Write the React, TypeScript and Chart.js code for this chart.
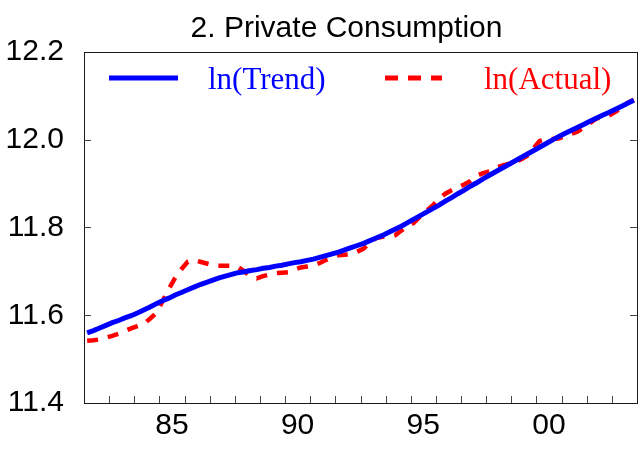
import { useEffect, useRef } from 'react';
import { Chart, registerables } from 'chart.js';

Chart.register(...registerables);

const TITLE = '2. Private Consumption';
const years = [1982, 1983, 1984, 1985, 1986, 1987, 1988, 1989, 1990, 1991, 1992, 1993, 1994, 1995, 1996, 1997, 1998, 1999, 2000, 2001, 2002, 2003];
const quarterNames = ['Q1', 'Q2', 'Q3', 'Q4'];
const periods = years.flatMap((y) => quarterNames.map((q) => `${y}${q}`));

const trendValues = [
  11.560, 11.565, 11.571, 11.577,
  11.583, 11.588, 11.594, 11.599,
  11.605, 11.612, 11.619, 11.626,
  11.633, 11.639, 11.646, 11.652,
  11.658, 11.664, 11.670, 11.675,
  11.680, 11.685, 11.689, 11.693,
  11.697, 11.699, 11.702, 11.704,
  11.707, 11.709, 11.712, 11.714,
  11.717, 11.720, 11.722, 11.725,
  11.728, 11.732, 11.736, 11.740,
  11.744, 11.749, 11.754, 11.759,
  11.764, 11.770, 11.776, 11.782,
  11.789, 11.796, 11.803, 11.811,
  11.819, 11.827, 11.835, 11.843,
  11.851, 11.860, 11.868, 11.877,
  11.885, 11.894, 11.902, 11.911,
  11.919, 11.927, 11.935, 11.943,
  11.951, 11.959, 11.967, 11.975,
  11.983, 11.991, 11.999, 12.007,
  12.014, 12.021, 12.028, 12.035,
  12.042, 12.049, 12.056, 12.062,
  12.069, 12.076, 12.083, 12.090,
];

const actualValues = [
  11.542, 11.543, 11.545, 11.549,
  11.553, 11.558, 11.564, 11.570,
  11.575, 11.580, 11.592, 11.605,
  11.632, 11.660, 11.685, 11.705,
  11.722, 11.726, 11.722, 11.718,
  11.714, 11.713, 11.713, 11.713,
  11.710, 11.700, 11.688, 11.684,
  11.689, 11.693, 11.696, 11.697,
  11.698, 11.704, 11.709, 11.711,
  11.713, 11.719, 11.726, 11.732,
  11.737, 11.738, 11.739, 11.745,
  11.752, 11.766, 11.776, 11.779,
  11.779, 11.782, 11.793, 11.803,
  11.811, 11.825, 11.838, 11.850,
  11.866, 11.877, 11.885, 11.892,
  11.898, 11.906, 11.918, 11.924,
  11.928, 11.936, 11.941, 11.945,
  11.948, 11.955, 11.963, 11.980,
  11.997, 12.001, 12.002, 12.003,
  12.008, 12.013, 12.018, 12.028,
  12.038, 12.048, 12.052, 12.055,
  12.063, 12.072, 12.084, 12.091,
];

const yTicks = [11.4, 11.6, 11.8, 12.0, 12.2];
const xLabelYears = [1985, 1990, 1995, 2000];
const seriesLabels = ['ln(Trend)', 'ln(Actual)'];
const seriesColors = ['#0000ff', '#ff0000'];

const SANS = '"Liberation Sans", Arial, sans-serif';

const periodToX = (p: string) => {
  const y = parseInt(p.slice(0, 4), 10);
  const q = parseInt(p.slice(5), 10);
  return y + (q - 0.5) / 4;
};

const toPoints = (vals: number[]) => periods.map((p, i) => ({ x: periodToX(p), y: vals[i] }));

const titlePlugin = {
  id: 'figureTitle',
  afterDraw(chart: any) {
    const { ctx, chartArea } = chart;
    ctx.save();
    ctx.font = `30px ${SANS}`;
    ctx.fillStyle = '#000';
    ctx.textAlign = 'center';
    ctx.textBaseline = 'alphabetic';
    ctx.fillText(TITLE, (chartArea.left + chartArea.right) / 2 - 14, chartArea.top - 15);
    ctx.restore();
  },
};

const framePlugin = {
  id: 'frameTicks',
  afterDatasetsDraw(chart: any) {
    const { ctx, chartArea } = chart;
    const { left, right, top, bottom } = chartArea;
    const xs = chart.scales.x;
    const ys = chart.scales.y;
    ctx.save();
    ctx.strokeStyle = '#1a1a1a';
    ctx.lineWidth = 1;
    ctx.strokeRect(Math.round(left) + 0.5, Math.round(top) + 0.5, Math.round(right - left), Math.round(bottom - top));
    ctx.strokeStyle = '#444';
    ctx.beginPath();
    for (let yr = years[0] + 1; yr <= years[years.length - 1]; yr++) {
      const px = Math.round(xs.getPixelForValue(yr)) + 0.5;
      ctx.moveTo(px, bottom);
      ctx.lineTo(px, bottom - 7);
    }
    for (const v of yTicks.slice(1, -1)) {
      const py = Math.round(ys.getPixelForValue(v)) + 0.5;
      ctx.moveTo(left, py);
      ctx.lineTo(left + 7, py);
      ctx.moveTo(right, py);
      ctx.lineTo(right - 7, py);
    }
    ctx.stroke();
    ctx.restore();
  },
};

const legendPlugin = {
  id: 'insideLegend',
  afterDraw(chart: any) {
    const { ctx, chartArea } = chart;
    const { left, top } = chartArea;
    const lineY = top + 26;
    const textY = top + 37;
    ctx.save();
    ctx.font = '31px "Liberation Serif", "Times New Roman", serif';
    ctx.textBaseline = 'alphabetic';
    ctx.textAlign = 'left';
    // Trend
    ctx.strokeStyle = seriesColors[0];
    ctx.lineWidth = 5;
    ctx.beginPath();
    ctx.moveTo(left + 25, lineY);
    ctx.lineTo(left + 94, lineY);
    ctx.stroke();
    ctx.fillStyle = seriesColors[0];
    ctx.fillText(chart.data.datasets[0].label, left + 124, textY);
    // Actual
    ctx.strokeStyle = seriesColors[1];
    ctx.lineWidth = 5;
    ctx.setLineDash([13, 10]);
    ctx.beginPath();
    ctx.moveTo(left + 301, lineY);
    ctx.lineTo(left + 358, lineY);
    ctx.stroke();
    ctx.setLineDash([]);
    ctx.fillStyle = seriesColors[1];
    ctx.fillText(chart.data.datasets[1].label, left + 400, textY);
    ctx.restore();
  },
};

export default function App() {
  const ref = useRef<HTMLCanvasElement | null>(null);

  useEffect(() => {
    document.body.style.margin = '0';
    const canvas = ref.current;
    if (!canvas) return;
    const chart = new Chart(canvas, {
      type: 'line',
      data: {
        datasets: [
          {
            label: seriesLabels[0],
            data: toPoints(trendValues),
            borderColor: seriesColors[0],
            borderWidth: 5,
            pointRadius: 0,
            tension: 0,
            fill: false,
          },
          {
            label: seriesLabels[1],
            data: toPoints(actualValues),
            borderColor: seriesColors[1],
            borderWidth: 4.5,
            borderDash: [11, 10],
            pointRadius: 0,
            tension: 0,
            fill: false,
          },
        ],
      },
      options: {
        responsive: false,
        animation: false,
        events: [],
        layout: { padding: { left: 0, right: 6, top: 52, bottom: 0 } },
        plugins: {
          legend: { display: false },
          tooltip: { enabled: false },
          title: { display: false },
        },
        scales: {
          x: {
            type: 'linear',
            min: years[0],
            max: years[years.length - 1] + 1,
            grid: { display: false, drawTicks: false },
            border: { display: false },
            ticks: {
              stepSize: 1,
              autoSkip: false,
              maxRotation: 0,
              minRotation: 0,
              padding: 5,
              labelOffset: 12.5,
              color: '#000',
              font: { family: SANS, size: 30 },
              callback: (v: any) => (xLabelYears.includes(Number(v)) ? String(Number(v) % 100).padStart(2, '0') : ''),
            },
            afterFit: (s: any) => { s.height = 47; },
          },
          y: {
            type: 'linear',
            min: yTicks[0],
            max: yTicks[yTicks.length - 1],
            grid: { display: false, drawTicks: false },
            border: { display: false },
            ticks: {
              stepSize: 0.2,
              padding: 20,
              color: '#000',
              font: { family: SANS, size: 30 },
              callback: (v: any) => Number(v).toFixed(1),
            },
            afterFit: (s: any) => { s.width = 84; },
          },
        },
      },
      plugins: [framePlugin, legendPlugin, titlePlugin],
    });
    return () => chart.destroy();
  }, []);

  return (
    <div style={{ width: 643, height: 450 }}>
      <canvas ref={ref} width={643} height={450} />
    </div>
  );
}
